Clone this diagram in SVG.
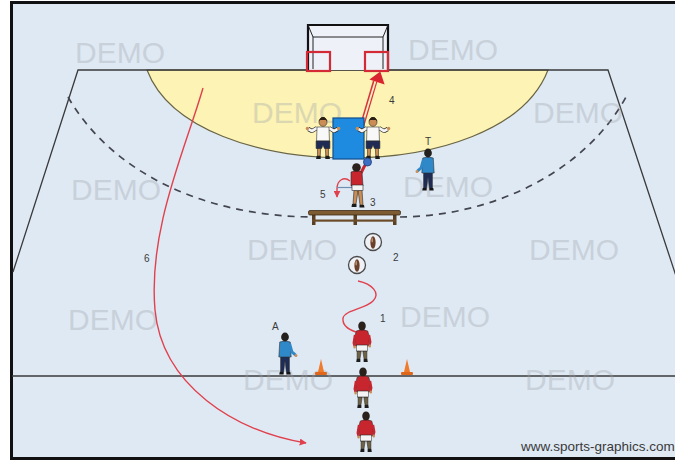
<svg xmlns="http://www.w3.org/2000/svg" width="675" height="463" viewBox="0 0 675 463">
  <style>
    .line { fill: none; stroke: #3a3a3a; stroke-width: 1.3; }
    .dash { fill: none; stroke: #44464f; stroke-width: 1.7; stroke-dasharray: 7 6; }
    .wm { font-family: "Liberation Sans", Arial, sans-serif; font-size: 30px; fill: #9ea3a9; opacity: 0.34; }
    .lbl { font-family: "Liberation Sans", Arial, sans-serif; font-size: 10px; fill: #3a3a3a; }
    .run { fill: none; stroke: #e0414c; stroke-width: 1.4; }
    .ink { stroke: #2a2a2a; stroke-width: 0.6; }
  </style>
  <defs>
    <!-- player seen from behind, red shirt -->
    <g id="runner">
      <path d="M-6,30 L-6,38 L-2.5,38 L-1,30 Z M1,30 L2.5,38 L6,38 L6,30 Z" fill="#6f6245" class="ink"/>
      <path d="M-6.5,38 h4.5 v3 h-5 Z M2,38 h4.5 l0.5,3 h-5 Z" fill="#1d1d1d"/>
      <path d="M-7,10 Q0,7 7,10 L9,16 L8,25 L-8,25 L-9,16 Z" fill="#c8262f" class="ink"/>
      <path d="M-8.5,14 L-10,22 L-9,25" fill="none" stroke="#c8262f" stroke-width="3"/>
      <path d="M8.5,14 L10,21 L9,24" fill="none" stroke="#c8262f" stroke-width="3"/>
      <circle cx="-9" cy="26" r="1.6" fill="#c98d55"/>
      <circle cx="9.5" cy="25" r="1.6" fill="#c98d55"/>
      <rect x="-6.5" y="24" width="13" height="6" fill="#f4f4f4" class="ink"/>
      <circle cx="0" cy="5" r="4.6" fill="#2a211c"/>
    </g>
    <!-- defender facing the court, arms spread -->
    <g id="defender">
      <path d="M-6,31 L-6,39 L-3,39 L-2.5,31 Z M2.5,31 L3,39 L6,39 L6,31 Z" fill="#c98d55" class="ink"/>
      <path d="M-7,39 h4.5 v3 h-5 Z M2.5,39 h4.5 l0.5,3 h-5 Z" fill="#1b1b1b"/>
      <path d="M-6.5,11 L-12,14 L-16,12" fill="none" stroke="#2a2a2a" stroke-width="4.2" stroke-linejoin="round"/>
      <path d="M6.5,11 L12,14 L16,12" fill="none" stroke="#2a2a2a" stroke-width="4.2" stroke-linejoin="round"/>
      <path d="M-6.5,11 L-12,14 L-16,12" fill="none" stroke="#f6f6f6" stroke-width="2.8" stroke-linejoin="round"/>
      <path d="M6.5,11 L12,14 L16,12" fill="none" stroke="#f6f6f6" stroke-width="2.8" stroke-linejoin="round"/>
      <circle cx="-17" cy="11.5" r="1.8" fill="#c98d55"/>
      <circle cx="17" cy="11.5" r="1.8" fill="#c98d55"/>
      <path d="M-6.5,10 L6.5,10 L7,24 L-7,24 Z" fill="#f8f8f8" class="ink"/>
      <path d="M-7.5,24 L7.5,24 L7.5,31.5 L1.5,31.5 L0,28 L-1.5,31.5 L-7.5,31.5 Z" fill="#1f2b55" class="ink"/>
      <circle cx="0" cy="5" r="4.4" fill="#c98d55" class="ink"/>
      <path d="M-4.4,4.5 A4.4,4.4 0 0 1 4.4,4.5 L3,3 L-3,3 Z" fill="#2a1d12"/>
    </g>
    <!-- coach in blue -->
    <g id="coach">
      <path d="M-5,24 L5,24 L5,40 L1.5,40 L0,29 L-1.5,40 L-5,40 Z" fill="#1e2d55" class="ink"/>
      <path d="M-6,40 h4.5 v2.5 h-5 Z M1.5,40 h4.5 l0.5,2.5 h-5 Z" fill="#151515"/>
      <path d="M-6,10 Q0,8 6,10 L7,25 L-7,25 Z" fill="#2f88c8" class="ink"/>
      <path d="M5.5,12 L8,20 L12,23" fill="none" stroke="#2f88c8" stroke-width="3"/>
      <circle cx="12.5" cy="23.5" r="1.6" fill="#c98d55"/>
      <circle cx="0" cy="5" r="4.4" fill="#24201d"/>
    </g>
    <marker id="tip" viewBox="0 0 10 10" refX="9" refY="5" markerWidth="7" markerHeight="7" orient="auto" markerUnits="userSpaceOnUse">
      <path d="M0,0 L10,5 L0,10 Z" fill="#e0414c"/>
    </marker>
  </defs>

  <!-- frame and floor -->
  <rect x="0" y="0" width="675" height="463" fill="#ffffff"/>
  <rect x="11" y="2" width="664" height="457" fill="#dfe9f4"/>
  <path d="M11.5,459 L11.5,2.5 L675,2.5" fill="none" stroke="#111" stroke-width="3"/>
  <path d="M10,458.5 L675,458.5" fill="none" stroke="#111" stroke-width="3"/>

  <!-- court markings -->
  <g id="court">
    <path d="M147,70 C170,130 260,158 348,158 C436,158 525,130 548,70 Z" fill="#fcf3b4" stroke="#6a6544" stroke-width="1.2"/>
    <path class="line" d="M13,272 L78,70 L608,70 L676,276"/>
    <path class="line" d="M12,376 L675,376"/>
    <path class="dash" d="M68,97 C110,170 200,216 312,217"/>
    <path class="dash" d="M400,217 C496,216 586,170 626,97"/>
  </g>

  <!-- watermark -->
  <g id="watermark">
    <text class="wm" x="75" y="63">DEMO</text>
    <text class="wm" x="408" y="60">DEMO</text>
    <text class="wm" x="252" y="123">DEMO</text>
    <text class="wm" x="533" y="123">DEMO</text>
    <text class="wm" x="71" y="200">DEMO</text>
    <text class="wm" x="403" y="197">DEMO</text>
    <text class="wm" x="247" y="260">DEMO</text>
    <text class="wm" x="529" y="260">DEMO</text>
    <text class="wm" x="68" y="330">DEMO</text>
    <text class="wm" x="400" y="327">DEMO</text>
    <text class="wm" x="243" y="390">DEMO</text>
    <text class="wm" x="525" y="390">DEMO</text>
  </g>

  <!-- goal with target squares -->
  <g id="goal">
    <rect x="308" y="25" width="80" height="45" fill="#eef1f8"/>
    <path d="M308,70 L308,25 L388,25 L388,70" fill="none" stroke="#111" stroke-width="2.2"/>
    <path d="M313,69 L313,37 L383,37 L383,69 M308,25 L313,37 M388,25 L383,37" fill="none" stroke="#222" stroke-width="1"/>
    <rect x="307" y="52" width="23" height="19" fill="none" stroke="#d42a35" stroke-width="2.2"/>
    <rect x="365" y="52" width="23" height="19" fill="none" stroke="#d42a35" stroke-width="2.2"/>
  </g>

  <!-- connectors -->
  <g id="connectors">
    <path d="M362.1,125.4 L375.1,81.4" fill="none" stroke="#d9333c" stroke-width="4.6"/>
    <path d="M362.1,125.4 L375.6,80.4" fill="none" stroke="#fcf0c0" stroke-width="1.8"/>
    <polygon points="380.3,71.5 369.4,79.6 384.6,84.4" fill="#d9232e"/>
    <path class="run" d="M203,88 C185,150 148,230 155,310 C162,385 235,432 306,443" marker-end="url(#tip)"/>
    <path class="run" d="M358,281 C372,284 381,293 373,301 C365,309 345,310 343,318 C342,326 350,330 356,332"/>
    <path class="run" d="M350,181 C344,176 337,180 337,189 L337,197" marker-end="url(#tip)"/>
    <path d="M337,187.5 L354,187.5" fill="none" stroke="#6d8fb0" stroke-width="1.2"/>
  </g>

  <!-- blocking pad between the defenders -->
  <g id="pad">
    <rect x="333" y="118" width="31" height="41" fill="#1f8be0" stroke="#0f4f8c" stroke-width="1.2"/>
  </g>
  <g id="defender-left"><use href="#defender" transform="translate(323,117) scale(0.92,1)"/></g>
  <g id="defender-right"><use href="#defender" transform="translate(373,117) scale(0.92,1)"/></g>

  <!-- coach T -->
  <g id="coach-t">
    <use href="#coach" transform="translate(428,148) scale(-0.88,1)"/>
  </g>
  <!-- coach A -->
  <g id="coach-a"><use href="#coach" transform="translate(285,332) scale(0.88,1)"/></g>

  <!-- shooter with ball -->
  <g id="shooter">
    <path d="M354,190 L353,204 L356,204 L358,191 Z M358,190 L360,205 L363,205 L362,190 Z" fill="#c98d55" class="ink"/>
    <path d="M352,204 h4.5 v3 h-5 Z M359.5,205 h4.5 l0.5,2.5 h-5 Z" fill="#1b1b1b"/>
    <path d="M361,173 L364,167 L366,164" fill="none" stroke="#c8262f" stroke-width="3"/>
    <path d="M351,172 Q357,169 362,172 L363,186 L351,186 Z" fill="#c8262f" class="ink"/>
    <rect x="352" y="185" width="11" height="5.5" fill="#f4f4f4" class="ink"/>
    <circle cx="356.5" cy="167.5" r="4.3" fill="#2a211c"/>
    <circle cx="367.5" cy="162" r="4" fill="#3b6fc4" stroke="#1f3c75" stroke-width="0.8"/>
  </g>

  <!-- bench -->
  <g id="bench">
    <rect x="312" y="214" width="3.5" height="11" fill="#5a3f22"/>
    <rect x="353.5" y="214" width="3.5" height="11" fill="#5a3f22"/>
    <rect x="393" y="214" width="3.5" height="11" fill="#5a3f22"/>
    <rect x="312" y="219.5" width="84" height="2.2" fill="#6b4c2a"/>
    <rect x="308.5" y="210.5" width="92" height="4.5" rx="1.5" fill="#7d5c33" stroke="#3e2b15" stroke-width="0.8"/>
  </g>

  <!-- markers 2 -->
  <g id="marker-1">
    <circle cx="373" cy="242" r="8.5" fill="#eef1f5" stroke="#4a4a4a" stroke-width="1.3"/>
    <ellipse cx="373" cy="242.5" rx="2.6" ry="6.2" fill="#6b3f2a"/>
    <ellipse cx="372.2" cy="240" rx="0.9" ry="2.5" fill="#b98c6a"/>
  </g>
  <g id="marker-2">
    <circle cx="357" cy="265" r="8.5" fill="#eef1f5" stroke="#4a4a4a" stroke-width="1.3"/>
    <ellipse cx="357" cy="265.5" rx="2.6" ry="6.2" fill="#6b3f2a"/>
    <ellipse cx="356.2" cy="263" rx="0.9" ry="2.5" fill="#b98c6a"/>
  </g>

  <!-- cones -->
  <g id="cone-left">
    <path d="M318,372 L321,359 L324,372 Z" fill="#f07b2b"/>
    <rect x="315" y="372" width="12" height="3" rx="1" fill="#e0661c"/>
  </g>
  <g id="cone-right">
    <path d="M404,372 L407,359 L410,372 Z" fill="#f07b2b"/>
    <rect x="401" y="372" width="12" height="3" rx="1" fill="#e0661c"/>
  </g>

  <!-- queue of players -->
  <g id="player-1"><use href="#runner" transform="translate(362,321) scale(0.82,1)"/></g>
  <g id="player-2"><use href="#runner" transform="translate(363,367) scale(0.82,1)"/></g>
  <g id="player-3"><use href="#runner" transform="translate(366,411) scale(0.82,1)"/></g>

  <!-- labels -->
  <g id="labels">
    <text class="lbl" x="380" y="322">1</text>
    <text class="lbl" x="393" y="261">2</text>
    <text class="lbl" x="370" y="206">3</text>
    <text class="lbl" x="389" y="104">4</text>
    <text class="lbl" x="320" y="198">5</text>
    <text class="lbl" x="144" y="262">6</text>
    <text class="lbl" x="272" y="330">A</text>
    <text class="lbl" x="425" y="145">T</text>
  </g>

  <text x="521" y="451" font-family="'Liberation Sans', Arial, sans-serif" font-size="13.5" fill="#3a3a3a">www.sports-graphics.com</text>
</svg>
